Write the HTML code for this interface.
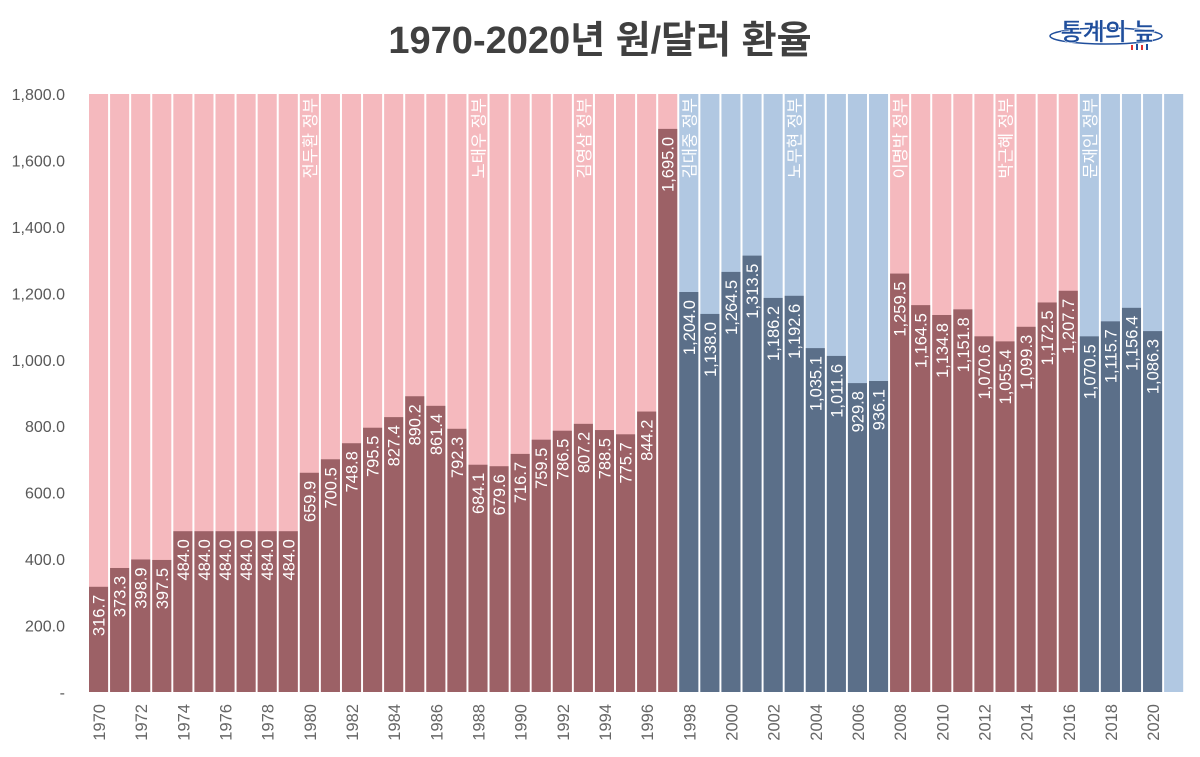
<!DOCTYPE html>
<html><head><meta charset="utf-8">
<style>
body{margin:0;background:#fff;font-family:"Liberation Sans","Noto Sans CJK KR",sans-serif;}
svg text{font-family:"Liberation Sans","Noto Sans CJK KR",sans-serif;}
</style></head>
<body>
<svg id="chart" width="1200" height="752" viewBox="0 0 1200 752" xmlns="http://www.w3.org/2000/svg">
<text x="600" y="53" text-anchor="middle" font-size="38" font-weight="bold" fill="#404040">1970-2020년 원/달러 환율</text>
<g>
<ellipse cx="1106" cy="36" rx="56" ry="8" fill="none" stroke="#1f4e9c" stroke-width="1.5"/>
<text x="1108" y="40" text-anchor="middle" font-size="24" font-weight="bold" fill="#1f4e9c" stroke="#fff" stroke-width="0.5">통계의 늪</text>
<rect x="1131" y="45" width="2" height="5" fill="#e03030"/><rect x="1136" y="44" width="2" height="6" fill="#1f4e9c"/><rect x="1141" y="45" width="2" height="5" fill="#e03030"/><rect x="1146" y="44" width="2" height="6" fill="#1f4e9c"/>
</g>
<g id="yaxis"></g>
<g id="bars"></g>
<g id="xaxis"></g>
</svg>
<script>
const years = [];
for (let y = 1970; y <= 2021; y++) years.push(y);
const rates = [316.7,373.3,398.9,397.5,484.0,484.0,484.0,484.0,484.0,484.0,
659.9,700.5,748.8,795.5,827.4,890.2,861.4,792.3,684.1,679.6,716.7,759.5,786.5,807.2,788.5,775.7,844.2,1695.0,
1204.0,1138.0,1264.5,1313.5,1186.2,1192.6,1035.1,1011.6,929.8,936.1,
1259.5,1164.5,1134.8,1151.8,1070.6,1055.4,1099.3,1172.5,1207.7,
1070.5,1115.7,1156.4,1086.3,null];
const yTicks = [0,200,400,600,800,1000,1200,1400,1600,1800];
const govNames = ["전두환 정부","노태우 정부","김영삼 정부","김대중 정부","노무현 정부","이명박 정부","박근혜 정부","문재인 정부"];
const govStart = [1980,1988,1993,1998,2003,2008,2013,2017];
const govParty = ["red","red","red","blue","blue","red","red","blue"];

const NS="http://www.w3.org/2000/svg";
const L=88.5, R=1184.7, B=692, T=94, YMAX=1800;
const step=(R-L)/years.length;
const xs=i=>L+i*step;
const ys=v=>B-(v/YMAX)*(B-T);
const fmt=v=>v.toLocaleString('en-US',{minimumFractionDigits:1,maximumFractionDigits:1});
function mk(tag,attrs,parent){const e=document.createElementNS(NS,tag);for(const k in attrs)e.setAttribute(k,attrs[k]);parent.appendChild(e);return e;}
function partyOf(y){let p="red";for(let i=0;i<govStart.length;i++)if(y>=govStart[i])p=govParty[i];return p;}

const ya=document.getElementById('yaxis');
yTicks.forEach(t=>{
 const e=mk('text',{x:65,y:ys(t)+6,'text-anchor':'end','font-size':16,fill:'#595959'},ya);
 e.textContent=t===0?'-':fmt(t);
 
 
});

const bg=document.getElementById('bars');
years.forEach((y,i)=>{
 const p=partyOf(y);
 const x0=xs(i)+0.5, w=step-2;
 const r=mk('rect',{x:x0,y:T,width:w,height:B-T,fill:p==='red'?'#f5b9be':'#b1c8e2'},bg);
 
 
 const v=rates[i];
 if(v!=null){
  const b=mk('rect',{x:x0,y:ys(v),width:w,height:B-ys(v),fill:p==='red'?'#9c6166':'#5b6f89'},bg);
  
  
  const cx=x0+w/2+6, ty=ys(v)+8;
  const t=mk('text',{x:cx,y:ty,'text-anchor':'end','font-size':16.5,fill:'#fff',transform:`rotate(-90 ${cx} ${ty})`},bg);
  t.textContent=fmt(v);
  
  
 }
});
govStart.forEach((g,k)=>{
 const i=years.indexOf(g);
 const cx=xs(i)+step/2+6, ty=98;
 const t=mk('text',{x:cx,y:ty,'text-anchor':'end','font-size':16.5,fill:'#fff',transform:`rotate(-90 ${cx} ${ty})`},bg);
 t.textContent=govNames[k];
 
 
});

const xa=document.getElementById('xaxis');
years.forEach((y,i)=>{
 if(y%2!==0||y>2020)return;
 const cx=xs(i)+step/2+6, ty=704;
 const t=mk('text',{x:cx,y:ty,'text-anchor':'end','font-size':16.5,fill:'#666',transform:`rotate(-90 ${cx} ${ty})`},xa);
 t.textContent=y;
 
 
});
</script>
</body></html>
